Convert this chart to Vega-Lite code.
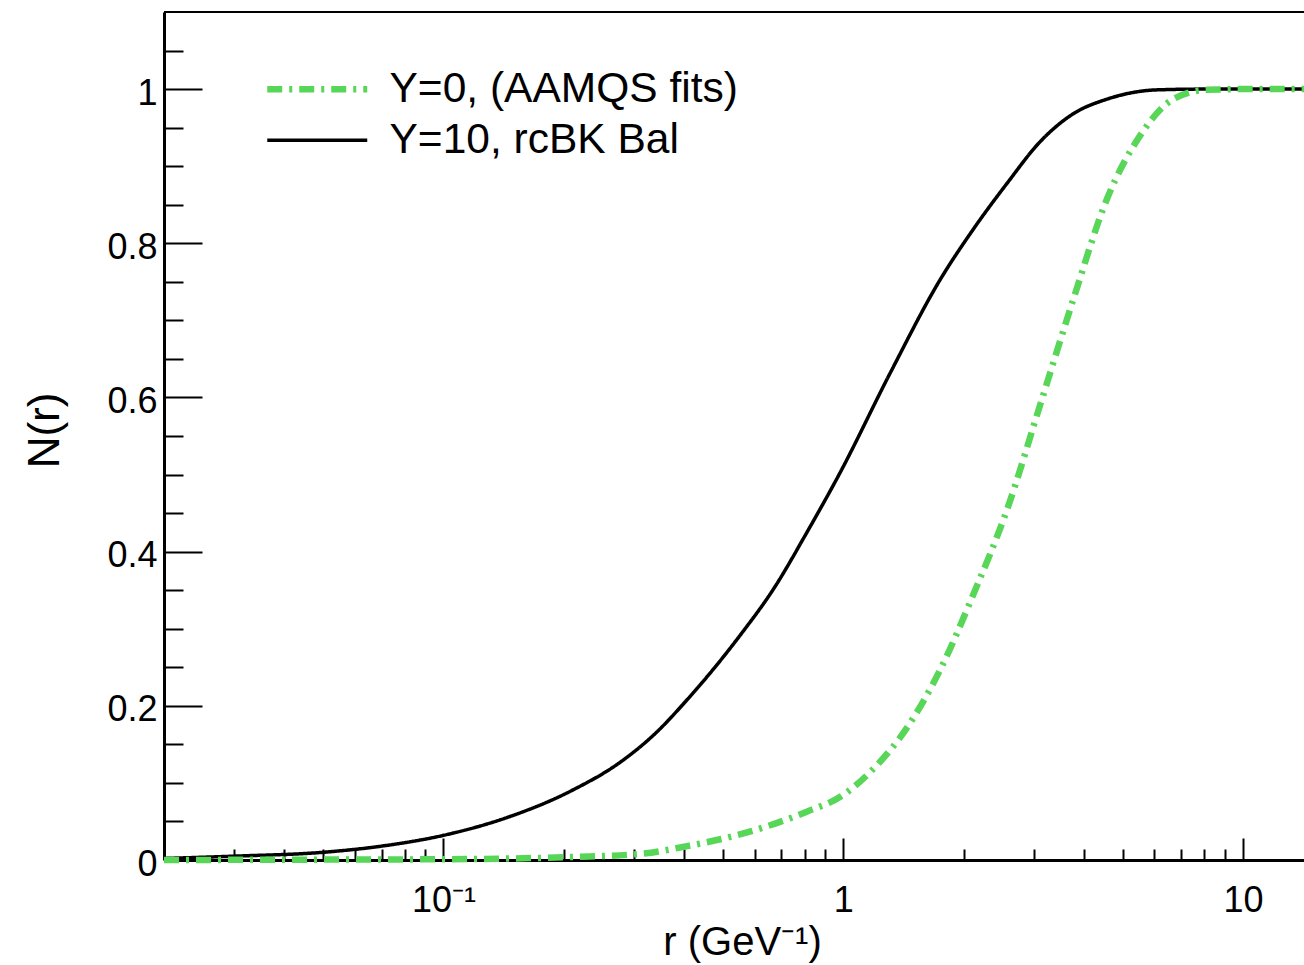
{
  "$schema": "https://vega.github.io/schema/vega-lite/v6.json",
  "width": 1140,
  "height": 848,
  "autosize": {"type": "none"},
  "padding": {"left": 164, "top": 12, "right": 0, "bottom": 105},
  "background": "white",
  "config": {"view": {"stroke": null}, "font": "Liberation Sans"},
  "datasets": {
    "curves": [
      {"series": "Y=10, rcBK Bal", "r": 0.02, "N": 0.002},
      {"series": "Y=10, rcBK Bal", "r": 0.03, "N": 0.005},
      {"series": "Y=10, rcBK Bal", "r": 0.05, "N": 0.010},
      {"series": "Y=10, rcBK Bal", "r": 0.07, "N": 0.018},
      {"series": "Y=10, rcBK Bal", "r": 0.1, "N": 0.032},
      {"series": "Y=10, rcBK Bal", "r": 0.144, "N": 0.055},
      {"series": "Y=10, rcBK Bal", "r": 0.211, "N": 0.091},
      {"series": "Y=10, rcBK Bal", "r": 0.277, "N": 0.127},
      {"series": "Y=10, rcBK Bal", "r": 0.34, "N": 0.165},
      {"series": "Y=10, rcBK Bal", "r": 0.407, "N": 0.208},
      {"series": "Y=10, rcBK Bal", "r": 0.553, "N": 0.292},
      {"series": "Y=10, rcBK Bal", "r": 0.67, "N": 0.352},
      {"series": "Y=10, rcBK Bal", "r": 0.811, "N": 0.425},
      {"series": "Y=10, rcBK Bal", "r": 0.983, "N": 0.503},
      {"series": "Y=10, rcBK Bal", "r": 1.311, "N": 0.632},
      {"series": "Y=10, rcBK Bal", "r": 1.748, "N": 0.753},
      {"series": "Y=10, rcBK Bal", "r": 2.113, "N": 0.818},
      {"series": "Y=10, rcBK Bal", "r": 2.57, "N": 0.878},
      {"series": "Y=10, rcBK Bal", "r": 3.11, "N": 0.932},
      {"series": "Y=10, rcBK Bal", "r": 3.76, "N": 0.968},
      {"series": "Y=10, rcBK Bal", "r": 4.57, "N": 0.987},
      {"series": "Y=10, rcBK Bal", "r": 6.1, "N": 0.999},
      {"series": "Y=10, rcBK Bal", "r": 8.0, "N": 1.0},
      {"series": "Y=10, rcBK Bal", "r": 14.2, "N": 1.0},
      {"series": "Y=0, (AAMQS fits)", "r": 0.02, "N": 0.0},
      {"series": "Y=0, (AAMQS fits)", "r": 0.05, "N": 0.0005},
      {"series": "Y=0, (AAMQS fits)", "r": 0.1, "N": 0.001},
      {"series": "Y=0, (AAMQS fits)", "r": 0.211, "N": 0.004},
      {"series": "Y=0, (AAMQS fits)", "r": 0.311, "N": 0.008},
      {"series": "Y=0, (AAMQS fits)", "r": 0.407, "N": 0.018},
      {"series": "Y=0, (AAMQS fits)", "r": 0.586, "N": 0.037},
      {"series": "Y=0, (AAMQS fits)", "r": 0.813, "N": 0.063},
      {"series": "Y=0, (AAMQS fits)", "r": 0.983, "N": 0.082},
      {"series": "Y=0, (AAMQS fits)", "r": 1.188, "N": 0.118},
      {"series": "Y=0, (AAMQS fits)", "r": 1.445, "N": 0.172},
      {"series": "Y=0, (AAMQS fits)", "r": 1.748, "N": 0.247},
      {"series": "Y=0, (AAMQS fits)", "r": 2.113, "N": 0.344},
      {"series": "Y=0, (AAMQS fits)", "r": 2.57, "N": 0.455},
      {"series": "Y=0, (AAMQS fits)", "r": 3.11, "N": 0.591},
      {"series": "Y=0, (AAMQS fits)", "r": 3.76, "N": 0.727},
      {"series": "Y=0, (AAMQS fits)", "r": 4.57, "N": 0.858},
      {"series": "Y=0, (AAMQS fits)", "r": 5.53, "N": 0.940},
      {"series": "Y=0, (AAMQS fits)", "r": 6.69, "N": 0.987},
      {"series": "Y=0, (AAMQS fits)", "r": 8.1, "N": 0.999},
      {"series": "Y=0, (AAMQS fits)", "r": 10, "N": 1.0},
      {"series": "Y=0, (AAMQS fits)", "r": 14.2, "N": 1.0}
    ]
  },
  "data": {"name": "curves"},
  "layer": [
    {
      "mark": {"type": "line", "opacity": 0},
      "encoding": {
        "x": {"field": "r", "type": "quantitative",
          "scale": {"type": "log", "domain": [0.02, 14.2], "nice": false},
          "axis": {"orient": "bottom", "values": [0.03, 0.04, 0.05, 0.06, 0.07, 0.08, 0.09, 0.2, 0.3, 0.4, 0.5, 0.6, 0.7, 0.8, 0.9, 2, 3, 4, 5, 6, 7, 8, 9],
            "tickSize": -11, "tickWidth": 2, "tickColor": "black", "labels": false, "domain": false, "grid": false, "title": null}},
        "y": {"field": "N", "type": "quantitative",
          "scale": {"domain": [0, 1.1], "nice": false, "zero": false},
          "axis": {"orient": "left", "values": [0.05, 0.1, 0.15, 0.25, 0.3, 0.35, 0.45, 0.5, 0.55, 0.65, 0.7, 0.75, 0.85, 0.9, 0.95, 1.05],
            "tickSize": -19, "tickWidth": 2, "tickColor": "black", "labels": false, "domain": false, "grid": false, "title": null}}
      }
    },
    {
      "transform": [{"filter": "datum.series == 'Y=10, rcBK Bal'"}],
      "mark": {"type": "line", "interpolate": "monotone", "strokeWidth": 3.5, "strokeCap": "butt"},
      "encoding": {
        "x": {"field": "r", "type": "quantitative",
          "scale": {"type": "log", "domain": [0.02, 14.2], "nice": false},
          "axis": {"orient": "bottom", "values": [0.1, 1, 10], "tickSize": -22, "tickWidth": 2, "tickColor": "black",
            "domainColor": "black", "domainWidth": 3, "grid": false,
            "labelPadding": 45, "labelFontSize": 36, "labelFont": "Liberation Sans", "labelColor": "black",
            "labelFlush": false, "labelOverlap": false,
            "labelExpr": "datum.value < 0.5 ? '10⁻¹' : (datum.value < 5 ? '1' : '10')",
            "title": "r (GeV⁻¹)", "titleFont": "Liberation Sans", "titleFontSize": 40, "titleFontWeight": "normal", "titleColor": "black",
            "titleX": 578, "titleY": 94, "titleBaseline": "alphabetic", "titleAlign": "center"}},
        "y": {"field": "N", "type": "quantitative",
          "scale": {"domain": [0, 1.1], "nice": false, "zero": false},
          "axis": {"orient": "left", "values": [0, 0.2, 0.4, 0.6, 0.8, 1], "tickSize": -38, "tickWidth": 2, "tickColor": "black",
            "domainColor": "black", "domainWidth": 3, "grid": false,
            "labelPadding": 45, "labelFontSize": 36, "labelFont": "Liberation Sans", "labelColor": "black", "labelOffset": 4,
            "labelFlush": false, "labelOverlap": false,
            "labelExpr": "format(datum.value, '~g')",
            "title": "N(r)", "titleFont": "Liberation Sans", "titleFontSize": 44, "titleFontWeight": "normal", "titleColor": "black",
            "titleX": -106, "titleY": 418, "titleAngle": 270, "titleBaseline": "alphabetic", "titleAlign": "center"}},
        "color": {"field": "series", "type": "nominal",
          "scale": {"domain": ["Y=0, (AAMQS fits)", "Y=10, rcBK Bal"], "range": ["#57d657", "#000000"]},
          "legend": {"orient": "none", "legendX": 132, "legendY": 56, "title": null, "padding": 0,
            "symbolType": "M-5,0H5", "symbolSize": 400, "symbolStrokeWidth": 5,
            "labelFontSize": 42.5, "labelFont": "Liberation Sans", "labelColor": "black", "labelOffset": 51, "labelLimit": 800,
            "rowPadding": 8,
            "encode": {"symbols": {"update": {"strokeWidth": {"signal": "datum.value == 'Y=10, rcBK Bal' ? 3.5 : 6.5"}, "strokeCap": {"value": "butt"}}}}}},
        "strokeDash": {"field": "series", "type": "nominal",
          "scale": {"domain": ["Y=0, (AAMQS fits)", "Y=10, rcBK Bal"], "range": [[15, 7, 3, 7], [1, 0]]},
          "legend": {"orient": "none", "legendX": 132, "legendY": 56, "title": null, "padding": 0,
            "symbolType": "M-5,0H5", "symbolSize": 400, "symbolStrokeWidth": 5,
            "labelFontSize": 42.5, "labelFont": "Liberation Sans", "labelColor": "black", "labelOffset": 51, "labelLimit": 800,
            "rowPadding": 8,
            "encode": {"symbols": {"update": {"strokeWidth": {"signal": "datum.value == 'Y=10, rcBK Bal' ? 3.5 : 6.5"}, "strokeCap": {"value": "butt"}}}}}}
      }
    },
    {
      "transform": [{"filter": "datum.series == 'Y=0, (AAMQS fits)'"}],
      "mark": {"type": "line", "interpolate": "monotone", "strokeWidth": 6.5, "strokeCap": "butt"},
      "encoding": {
        "x": {"field": "r", "type": "quantitative", "scale": {"type": "log", "domain": [0.02, 14.2], "nice": false}, "axis": null},
        "y": {"field": "N", "type": "quantitative", "scale": {"domain": [0, 1.1], "nice": false, "zero": false}, "axis": null},
        "color": {"field": "series", "type": "nominal",
          "scale": {"domain": ["Y=0, (AAMQS fits)", "Y=10, rcBK Bal"], "range": ["#57d657", "#000000"]}},
        "strokeDash": {"field": "series", "type": "nominal",
          "scale": {"domain": ["Y=0, (AAMQS fits)", "Y=10, rcBK Bal"], "range": [[15, 7, 3, 7], [1, 0]]}}
      }
    },
    {
      "data": {"values": [{}]},
      "mark": {"type": "rule", "color": "black", "strokeWidth": 2},
      "encoding": {
        "y": {"datum": 1.1, "type": "quantitative", "scale": {"domain": [0, 1.1], "nice": false, "zero": false}, "axis": null}
      }
    }
  ],
  "resolve": {"axis": {"x": "independent", "y": "independent"}}
}
